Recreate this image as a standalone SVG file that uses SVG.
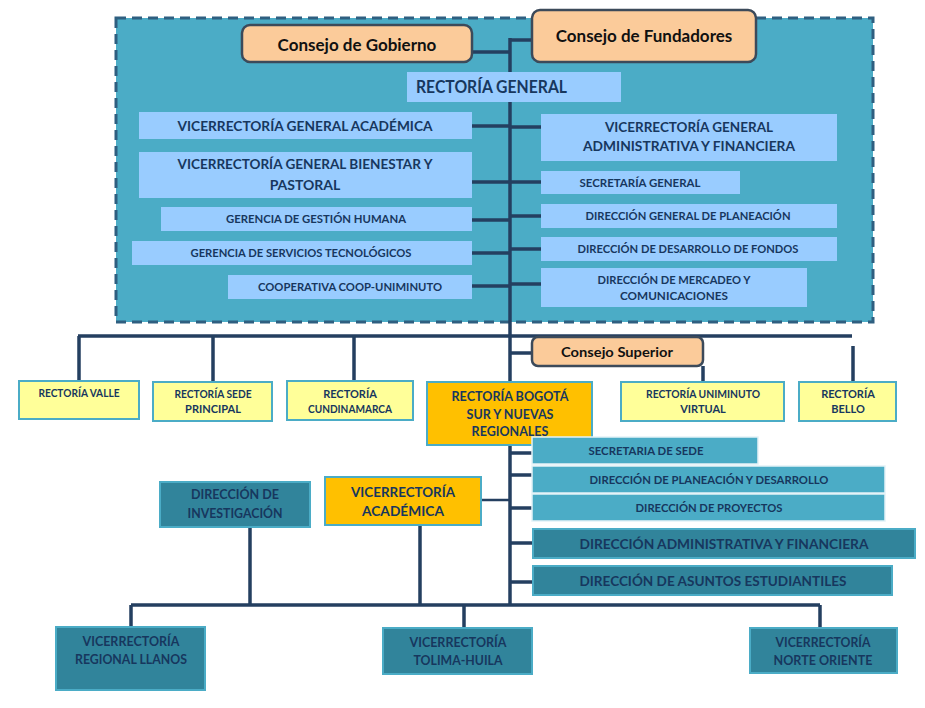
<svg xmlns="http://www.w3.org/2000/svg" width="925" height="708" viewBox="0 0 925 708">
<style>
text{font-family:Lato,"Liberation Sans",sans-serif;font-weight:bold;fill:#17375E;text-anchor:middle}
.k{fill:#111}
.lb{fill:#99CCFF}
.pe{fill:#FBCB9A;stroke:#3C4A5A;stroke-width:2.5}
.ye{fill:#FFFF99;stroke:#4BACC6;stroke-width:2}
.or{fill:#FFC000;stroke:#4BACC6;stroke-width:2}
.tl{fill:#4BACC6;stroke:#E4F2F7;stroke-width:1.5}
.dt{fill:#31849B;stroke:#4BACC6;stroke-width:2}
#connectors path{fill:none;stroke:#243F60;stroke-width:3.5}
#connectors path.thin{stroke-width:2.5}
</style>
<rect width="925" height="708" fill="#fff"/>
<rect id="container" x="116" y="18" width="757" height="304" fill="#4BACC6" stroke="#2F5F80" stroke-width="3" stroke-dasharray="10 6"/>
<g id="connectors">
<path d="M510 38V605"/>
<path d="M510 40H532M472 52H510"/>
<path d="M472 126H510M472 182H510M472 220H510M472 253H510M472 286H510"/>
<path d="M510 127H541M510 182H541M510 216H541M510 249H541M510 284H541"/>
<path d="M78 336H852M79 336V381M213 336V382M354 336V381M853 346V381"/>
<path d="M510 353H532M703 366V382"/>
<path d="M510 453H533M510 475H533M510 508H533M510 543H533M510 582H533"/>
<path class="thin" d="M481 500H510"/>
<path d="M250 527V605M420 525V605M131 605H820M131 605V627M464 605V628M820 605V628"/>
</g>
<g id="consejo-gobierno"><rect class="pe" x="242" y="25" width="230" height="37" rx="8"/><text class="k" x="357" y="51" font-size="17">Consejo de Gobierno</text></g>
<g id="consejo-fundadores"><rect class="pe" x="532" y="10" width="224" height="52" rx="8"/><text class="k" x="644" y="42" font-size="17">Consejo de Fundadores</text></g>
<g id="rectoria-general"><rect class="lb" x="407" y="72" width="214" height="30"/><text x="416" y="93" font-size="16.5" style="text-anchor:start" textLength="151" lengthAdjust="spacingAndGlyphs">RECTORÍA GENERAL</text></g>
<g id="vga"><rect class="lb" x="139" y="112" width="333" height="27"/><text x="305" y="131" font-size="14" textLength="255" lengthAdjust="spacingAndGlyphs">VICERRECTORÍA GENERAL ACADÉMICA</text></g>
<g id="vgbp"><rect class="lb" x="139" y="152" width="333" height="46"/><text x="305" y="169" font-size="14" textLength="255" lengthAdjust="spacingAndGlyphs">VICERRECTORÍA GENERAL BIENESTAR Y</text><text x="305" y="190" font-size="14">PASTORAL</text></g>
<g id="ggh"><rect class="lb" x="161" y="207" width="311" height="24"/><text x="316" y="223" font-size="11" textLength="180" lengthAdjust="spacingAndGlyphs">GERENCIA DE GESTIÓN HUMANA</text></g>
<g id="gst"><rect class="lb" x="132" y="241" width="340" height="24"/><text x="301" y="257" font-size="11" textLength="221" lengthAdjust="spacingAndGlyphs">GERENCIA DE SERVICIOS TECNOLÓGICOS</text></g>
<g id="coop"><rect class="lb" x="228" y="275" width="244" height="24"/><text x="350" y="291" font-size="11" textLength="184" lengthAdjust="spacingAndGlyphs">COOPERATIVA COOP-UNIMINUTO</text></g>
<g id="vgaf"><rect class="lb" x="541" y="114" width="296" height="47"/><text x="689" y="132" font-size="13.5" textLength="168" lengthAdjust="spacingAndGlyphs">VICERRECTORÍA GENERAL</text><text x="689" y="151" font-size="13.5" textLength="212" lengthAdjust="spacingAndGlyphs">ADMINISTRATIVA Y FINANCIERA</text></g>
<g id="sg"><rect class="lb" x="541" y="171" width="199" height="23"/><text x="640" y="187" font-size="11" textLength="121" lengthAdjust="spacingAndGlyphs">SECRETARÍA GENERAL</text></g>
<g id="dgp"><rect class="lb" x="541" y="204" width="296" height="24"/><text x="688" y="220" font-size="11" textLength="205" lengthAdjust="spacingAndGlyphs">DIRECCIÓN GENERAL DE PLANEACIÓN</text></g>
<g id="ddf"><rect class="lb" x="541" y="237" width="296" height="24"/><text x="688" y="253" font-size="11" textLength="221" lengthAdjust="spacingAndGlyphs">DIRECCIÓN DE DESARROLLO DE FONDOS</text></g>
<g id="dmc"><rect class="lb" x="541" y="268" width="266" height="39"/><text x="674" y="284" font-size="11" textLength="153" lengthAdjust="spacingAndGlyphs">DIRECCIÓN DE MERCADEO Y</text><text x="674" y="300" font-size="11" textLength="108" lengthAdjust="spacingAndGlyphs">COMUNICACIONES</text></g>
<g id="consejo-superior"><rect class="pe" x="532" y="337" width="171" height="29" rx="6"/><text class="k" x="617" y="357" font-size="13" textLength="112" lengthAdjust="spacingAndGlyphs">Consejo Superior</text></g>
<g id="r-valle"><rect class="ye" x="19" y="381" width="120" height="38"/><text x="79" y="397" font-size="11" textLength="81" lengthAdjust="spacingAndGlyphs">RECTORÍA VALLE</text></g>
<g id="r-sede"><rect class="ye" x="153" y="382" width="119" height="39"/><text x="213" y="398" font-size="11" textLength="77" lengthAdjust="spacingAndGlyphs">RECTORÍA SEDE</text><text x="213" y="413" font-size="11">PRINCIPAL</text></g>
<g id="r-cund"><rect class="ye" x="287" y="381" width="126" height="39"/><text x="350" y="398" font-size="11">RECTORÍA</text><text x="350" y="413" font-size="11" textLength="84" lengthAdjust="spacingAndGlyphs">CUNDINAMARCA</text></g>
<g id="r-bogota"><rect class="or" x="427" y="382" width="165" height="63"/><text x="510" y="401" font-size="12.5" textLength="117" lengthAdjust="spacingAndGlyphs">RECTORÍA BOGOTÁ</text><text x="510" y="419" font-size="12.5">SUR Y NUEVAS</text><text x="510" y="436" font-size="12.5">REGIONALES</text></g>
<g id="r-virtual"><rect class="ye" x="621" y="382" width="163" height="39"/><text x="703" y="398" font-size="11" textLength="114" lengthAdjust="spacingAndGlyphs">RECTORÍA UNIMINUTO</text><text x="703" y="413" font-size="11">VIRTUAL</text></g>
<g id="r-bello"><rect class="ye" x="799" y="382" width="97" height="39"/><text x="848" y="398" font-size="11">RECTORÍA</text><text x="848" y="413" font-size="11">BELLO</text></g>
<g id="sec-sede"><rect class="tl" x="532" y="437" width="226" height="27"/><text x="646" y="455" font-size="11" textLength="115" lengthAdjust="spacingAndGlyphs">SECRETARIA DE SEDE</text></g>
<g id="dpd"><rect class="tl" x="532" y="466" width="353" height="27"/><text x="709" y="484" font-size="11" textLength="239" lengthAdjust="spacingAndGlyphs">DIRECCIÓN DE PLANEACIÓN Y DESARROLLO</text></g>
<g id="dp"><rect class="tl" x="532" y="494" width="353" height="27"/><text x="709" y="512" font-size="11" textLength="147" lengthAdjust="spacingAndGlyphs">DIRECCIÓN DE PROYECTOS</text></g>
<g id="daf"><rect class="dt" x="533" y="529" width="382" height="29"/><text x="724" y="549" font-size="13.5" textLength="289" lengthAdjust="spacingAndGlyphs">DIRECCIÓN ADMINISTRATIVA Y FINANCIERA</text></g>
<g id="dae"><rect class="dt" x="533" y="566" width="359" height="29"/><text x="713" y="586" font-size="13.5" textLength="267" lengthAdjust="spacingAndGlyphs">DIRECCIÓN DE ASUNTOS ESTUDIANTILES</text></g>
<g id="di"><rect class="dt" x="160" y="482" width="150" height="45"/><text x="235" y="499" font-size="13" textLength="88" lengthAdjust="spacingAndGlyphs">DIRECCIÓN DE</text><text x="235" y="518" font-size="13" textLength="95" lengthAdjust="spacingAndGlyphs">INVESTIGACIÓN</text></g>
<g id="va"><rect class="or" x="325" y="477" width="156" height="48"/><text x="403" y="497" font-size="14" textLength="104" lengthAdjust="spacingAndGlyphs">VICERRECTORÍA</text><text x="403" y="516" font-size="14" textLength="82" lengthAdjust="spacingAndGlyphs">ACADÉMICA</text></g>
<g id="v-llanos"><rect class="dt" x="56" y="627" width="149" height="63"/><text x="131" y="646" font-size="13" textLength="97" lengthAdjust="spacingAndGlyphs">VICERRECTORÍA</text><text x="131" y="664" font-size="13" textLength="112" lengthAdjust="spacingAndGlyphs">REGIONAL LLANOS</text></g>
<g id="v-tolima"><rect class="dt" x="383" y="628" width="149" height="46"/><text x="458" y="647" font-size="13" textLength="97" lengthAdjust="spacingAndGlyphs">VICERRECTORÍA</text><text x="458" y="665" font-size="13" textLength="89" lengthAdjust="spacingAndGlyphs">TOLIMA-HUILA</text></g>
<g id="v-norte"><rect class="dt" x="750" y="628" width="147" height="45"/><text x="823" y="647" font-size="13" textLength="95" lengthAdjust="spacingAndGlyphs">VICERRECTORÍA</text><text x="823" y="665" font-size="13" textLength="99" lengthAdjust="spacingAndGlyphs">NORTE ORIENTE</text></g>
</svg>
